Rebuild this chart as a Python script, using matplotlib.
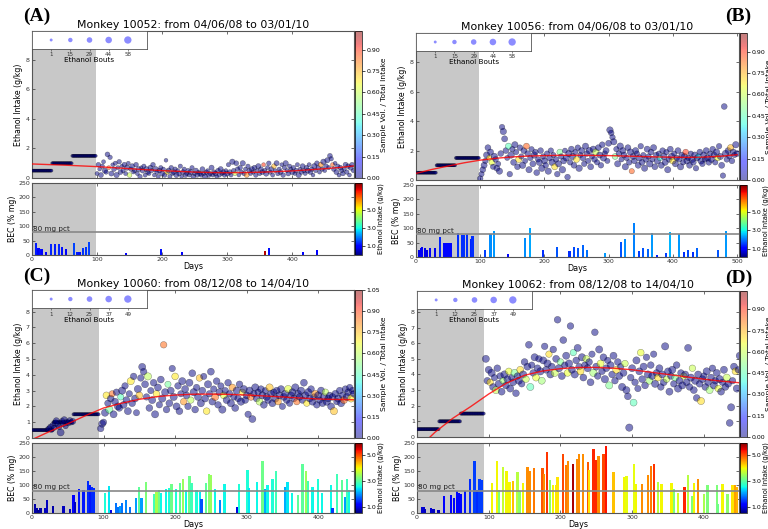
import numpy as np
import matplotlib
matplotlib.use("Agg")
import matplotlib.pyplot as plt
from matplotlib.colors import Normalize
from matplotlib.cm import ScalarMappable
from matplotlib.ticker import FormatStrFormatter

W, H = 768, 529
default_ratio = 0.0

# ---------------- Monkey 10052 (A) ----------------
title_A = "Monkey 10052: from 04/06/08 to 03/01/10"
xmax_A, induct_end_A, ymax_A = 495, 99, 9.95
induct_steps_A = [(1, 30, 0.5), (31, 61, 1.0), (62, 98, 1.5)]
post_start_A = 100
intake_A = [
    0.3, 0.9, 0.6, 0.2, 0.8, 1.1, 0.5, 0.4, 1.6, 0.7,
    1.4, 0.3, 0.9, 0.6, 1.0, 0.2, 0.7, 1.1, 0.4, 0.8,
    0.5, 0.9, 0.3, 0.7, 1.0, 0.2, 0.6, 0.8, 0.4, 0.5,
    0.9, 0.3, 0.6, 0.1, 0.7, 0.5, 0.8, 0.2, 0.6, 0.4,
    0.3, 0.7, 0.5, 0.9, 0.2, 0.6, 0.4, 0.1, 0.5, 0.7,
    0.3, 0.6, 0.2, 1.2, 0.4, 0.5, 0.1, 0.7, 0.3, 0.4,
    0.6, 0.2, 0.5, 0.3, 0.8, 0.1, 0.4, 0.6, 0.2, 0.3,
    0.5, 0.2, 0.4, 0.7, 0.1, 0.3, 0.5, 0.2, 0.4, 0.3,
    0.2, 0.6, 0.3, 0.1, 0.4, 0.5, 0.2, 0.3, 0.7, 0.2,
    0.4, 0.3, 0.1, 0.5, 0.2, 0.6, 0.3, 0.4, 0.2, 0.5,
    0.3, 0.9, 0.4, 0.2, 1.1, 0.5, 0.3, 1.0, 0.6, 0.2,
    0.7, 0.4, 1.0, 0.3, 0.6, 0.2, 0.8, 0.5, 0.3, 0.6,
    0.4, 0.7, 0.2, 0.5, 0.8, 0.3, 0.6, 0.4, 0.9, 0.5,
    0.3, 0.7, 1.0, 0.4, 0.6, 0.2, 0.8, 0.5, 1.0, 0.3,
    0.6, 0.4, 0.9, 0.2, 0.7, 1.0, 0.5, 0.3, 0.8, 0.6,
    0.4, 0.7, 0.3, 0.5, 0.9, 0.2, 0.6, 0.4, 0.8, 0.5,
    0.3, 0.7, 0.5, 0.9, 0.4, 0.6, 0.2, 0.8, 0.5, 1.0,
    0.7, 0.4, 0.9, 0.6, 1.1, 0.5, 0.8, 1.2, 0.7, 1.5,
    1.3, 0.9, 0.6, 1.0, 0.4, 0.8, 0.2, 0.7, 0.5, 0.3,
    0.6, 0.9, 0.4, 0.8, 0.2, 0.7, 0.9, 0.5]
bouts_A = [
    12, 18, 9, 22, 15, 11, 25, 14, 20, 10, 16, 23, 8, 19, 13, 27, 11, 17, 21, 9,
    14, 20, 12, 26, 10, 18, 15, 22, 9, 13, 19, 11, 24, 16, 8, 21, 14, 12, 25, 17,
    10, 22, 13, 18, 9, 27, 15, 11, 20, 14, 23, 12, 17, 9, 19, 26, 13, 16, 10, 21,
    15, 24, 11, 18, 14, 8, 22, 13, 20, 12, 17, 10, 25, 14, 19, 11, 23, 16, 9, 18,
    13, 21, 12, 27, 15, 10, 19, 14, 24, 11, 16, 22, 9, 18, 13, 25, 12, 20, 15, 10,
    24, 14, 19, 11, 28, 16, 12, 21, 17, 9, 18, 13, 26, 15, 10, 22, 14, 19, 11, 23,
    12, 20, 16, 9, 25, 13, 18, 21, 10, 15, 27, 11, 17, 14, 22, 12, 19, 9, 24, 16,
    13, 21, 10, 18, 15, 26, 12, 20, 14, 11, 23, 16, 9, 19, 13, 25, 11, 17, 22, 14,
    10, 18, 24, 12, 20, 15, 9, 27, 13, 19, 16, 11, 22, 14, 28, 10, 18, 25, 13, 21,
    15, 12, 19, 9, 23, 16, 11, 20, 14, 17, 12, 22, 15, 18, 10, 24, 19, 13]
hl_idx_A = [9, 25, 54, 106, 115, 128, 136, 172, 181]
hl_ratio_A = [0.85, 0.6, 0.7, 0.6, 0.8, 0.9, 0.75, 0.8, 0.85]
trend_days_A = [0, 25, 50, 75, 100, 125, 150, 175, 200, 225, 250, 275, 300,
                325, 350, 375, 400, 425, 450, 475, 495]
trend_A = [0.95, 0.91, 0.87, 0.82, 0.77, 0.70, 0.63, 0.56, 0.50, 0.45, 0.40,
           0.37, 0.36, 0.37, 0.39, 0.43, 0.48, 0.55, 0.63, 0.72, 0.82]
bar_days_A = [6, 10, 13, 16, 21, 29, 36, 42, 46, 52, 64, 70, 73, 79, 83, 87,
              144, 198, 231, 358, 364, 417, 438]
bar_bec_A = [40, 23, 21, 21, 12, 38, 38, 37, 28, 21, 43, 12, 9, 26, 29, 44,
             7, 21, 9, 15, 25, 9, 19]
bar_intake_A = [1.2, 1.0, 1.1, 1.0, 0.9, 1.3, 1.2, 1.3, 1.1, 1.0, 1.5, 1.2, 1.1, 1.4, 1.4, 1.5,
                0.9, 1.1, 0.9, 7.6, 1.1, 1.0, 1.0]
legend_bouts_A = [1, 15, 29, 44, 58]

# ---------------- Monkey 10056 (B) ----------------
title_B = "Monkey 10056: from 04/06/08 to 03/01/10"
xmax_B, induct_end_B, ymax_B = 503, 98, 10.0
induct_steps_B = [(2, 31, 0.5), (32, 61, 1.0), (62, 98, 1.5)]
post_start_B = 100
intake_B = [
    0.1, 0.4, 0.7, 1.0, 1.3, 1.7, 2.2, 1.5, 1.9, 1.2,
    0.9, 1.6, 1.4, 0.8, 1.1, 0.6, 1.8, 3.6, 3.3, 2.8,
    2.0, 1.5, 2.3, 0.4, 1.7, 2.1, 1.2, 2.4, 1.9, 0.9,
    1.4, 2.2, 1.6, 1.0, 2.0, 1.3, 2.3, 1.8, 0.7, 1.5,
    2.1, 1.1, 1.7, 1.9, 0.5, 1.4, 1.2, 2.0, 0.8, 1.6,
    1.3, 1.0, 1.8, 0.6, 1.5, 2.0, 1.2, 1.7, 0.9, 1.4,
    0.4, 1.1, 1.9, 1.6, 0.7, 1.3, 2.0, 1.5, 0.2, 1.8,
    1.2, 2.1, 1.6, 1.0, 1.9, 1.4, 2.2, 0.8, 1.7, 2.0,
    1.5, 1.1, 2.3, 1.8, 1.3, 2.0, 0.9, 1.6, 2.1, 1.4,
    1.9, 1.2, 2.2, 1.7, 1.0, 2.4, 1.5, 1.8, 2.0, 1.3,
    2.5, 3.4, 3.2, 2.9, 2.6, 1.6, 2.1, 1.1, 1.8, 2.3,
    1.4, 2.0, 1.7, 0.9, 1.5, 2.2, 1.2, 1.9, 0.6, 1.6,
    1.3, 2.0, 1.8, 1.0, 1.5, 2.3, 1.2, 1.7, 0.8, 1.4,
    2.1, 1.6, 1.1, 1.9, 1.4, 2.2, 0.9, 1.7, 1.3, 1.8,
    1.5, 1.0, 2.0, 1.6, 1.2, 1.9, 0.7, 1.4, 2.1, 1.6,
    1.3, 1.8, 1.1, 1.5, 2.0, 1.4, 0.9, 1.7, 1.2, 1.6,
    1.9, 1.3, 1.5, 1.0, 1.8, 1.4, 1.2, 1.7, 0.8, 1.5,
    1.6, 1.9, 1.3, 1.1, 1.7, 1.4, 2.0, 1.5, 1.2, 1.8,
    1.4, 2.1, 1.7, 1.2, 1.9, 1.5, 2.3, 1.6, 1.0, 0.3,
    5.0, 1.8, 1.4, 2.0, 1.6, 2.2, 1.3, 1.9, 1.7, 2.4,
    1.8]
bouts_B = [
    30, 26, 34, 38, 28, 41, 35, 24, 39, 32, 27, 44, 31, 36, 25, 40, 33, 29, 42, 37,
    34, 23, 38, 30, 45, 28, 36, 41, 26, 33, 39, 31, 27, 43, 35, 24, 37, 32, 40, 29,
    25, 36, 42, 30, 34, 27, 39, 33, 44, 28, 38, 31, 26, 41, 35, 29, 43, 24, 37, 32,
    30, 40, 34, 27, 45, 36, 23, 39, 31, 42, 28, 35, 41, 33, 26, 38, 30, 44, 25, 37,
    34, 29, 40, 32, 27, 43, 36, 24, 39, 31, 41, 26, 35, 38, 30, 33, 42, 28, 37, 25,
    36, 44, 31, 29, 40, 34, 27, 39, 32, 45, 24, 37, 33, 41, 28, 35, 30, 43, 26, 38,
    32, 39, 27, 36, 42, 29, 34, 25, 40, 31, 37, 28, 44, 33, 26, 39, 35, 30, 41, 24,
    29, 36, 31, 43, 38, 27, 40, 32, 34, 45, 41, 25, 37, 30, 35, 28, 42, 33, 26, 39,
    33, 40, 28, 35, 24, 44, 31, 38, 29, 36, 26, 34, 43, 30, 39, 27, 36, 41, 32, 25,
    38, 31, 35, 27, 42, 33, 29, 40, 37, 28, 34, 45, 30, 36, 25, 41, 32, 39, 27, 43,
    35]
hl_idx_B = [7, 9, 22, 30, 36, 58, 62, 75, 90, 105, 118, 140, 150, 160, 170, 185, 195]
hl_ratio_B = [0.7, 0.65, 0.45, 0.7, 0.85, 0.7, 0.5, 0.7, 0.6, 0.5, 0.85, 0.4,
              0.7, 0.9, 0.35, 0.65, 0.75]
trend_days_B = [0, 25, 50, 75, 100, 125, 150, 175, 200, 225, 250, 275, 300,
                325, 350, 375, 400, 425, 450, 475, 500]
trend_B = [0.45, 0.72, 0.95, 1.17, 1.35, 1.48, 1.57, 1.63, 1.66, 1.68, 1.68,
           1.67, 1.66, 1.63, 1.60, 1.57, 1.55, 1.54, 1.56, 1.62, 1.72]
bar_days_B = [5, 8, 10, 14, 17, 22, 30, 38, 43, 46, 49, 52, 55, 65, 72, 74, 79, 86, 88,
              108, 116, 122, 143, 170, 177, 198, 219, 239, 246, 253, 260, 267, 294,
              319, 326, 340, 347, 354, 361, 368, 375, 390, 396, 410, 417, 424, 431,
              437, 470, 483]
bar_bec_B = [25, 30, 33, 30, 25, 30, 30, 70, 50, 50, 48, 47, 50, 84, 75, 78, 79, 64, 74,
             25, 79, 90, 9, 66, 100, 23, 35, 21, 33, 31, 42, 25, 14,
             52, 64, 118, 21, 31, 29, 84, 7, 14, 88, 81, 17, 25, 17,
             31, 23, 90]
bar_intake_B = [0.9, 1.0, 1.0, 0.9, 0.9, 1.0, 1.0, 1.4, 1.2, 1.2, 1.2, 1.2, 1.2, 1.5, 1.5,
                1.5, 1.5, 1.4, 1.5,
                1.6, 2.2, 2.3, 1.2, 2.2, 2.4, 1.5, 1.8, 1.5, 1.7, 1.8, 1.9, 2.0, 2.3,
                1.8, 2.2, 2.1, 1.6, 1.8, 1.9, 2.3, 1.4, 1.6, 2.5, 2.3, 1.5, 1.7, 1.5,
                1.9, 1.8, 2.3]
legend_bouts_B = [1, 15, 29, 44, 58]

# ---------------- Monkey 10060 (C) ----------------
title_C = "Monkey 10060: from 08/12/08 to 14/04/10"
xmax_C, induct_end_C, ymax_C = 450, 94, 9.37
induct_steps_C = [(1, 29, 0.5), (30, 56, 1.0), (58, 93, 1.5)]
extra_days_C = [22, 24, 26, 27, 29, 31, 33, 34, 36, 38, 40, 42, 44, 45, 47, 49, 51, 53, 55, 57]
extra_vals_C = [0.55, 0.6, 0.7, 0.5, 0.8, 0.65, 0.95, 1.1, 0.85, 0.7, 0.35, 1.05,
                0.9, 1.15, 0.75, 1.0, 0.95, 1.1, 1.0, 1.05]
extra_bouts_C = [20, 25, 30, 18, 28, 22, 35, 30, 26, 24, 45, 32, 27, 36, 22, 30,
                 28, 33, 25, 30]
post_start_C = 96
intake_C = [
    0.6, 0.9, 1.0, 1.6, 2.7, 2.2, 1.8, 2.5, 2.8, 1.5,
    2.3, 2.9, 2.0, 1.9, 2.6, 3.0, 2.1, 3.3, 2.4, 1.7,
    2.8, 3.6, 2.2, 3.9, 2.5, 1.6, 3.1, 2.7, 3.8, 4.5,
    4.2, 3.4, 2.6, 3.9, 1.9, 3.0, 2.4, 3.5, 1.5, 2.8,
    3.2, 2.1, 3.7, 2.5, 5.9, 2.9, 1.8, 3.4, 2.2, 3.0,
    4.4, 2.6, 3.9, 2.0, 3.3, 1.7, 2.8, 3.6, 2.3, 3.1,
    2.7, 2.0, 3.5, 2.4, 4.1, 2.9, 1.8, 3.2, 2.6, 3.8,
    2.2, 3.0, 3.9, 2.5, 1.7, 3.4, 2.8, 4.2, 2.3, 3.1,
    2.6, 3.6, 2.1, 2.9, 3.3, 1.8, 2.7, 3.0, 2.4, 3.5,
    2.8, 2.2, 3.2, 2.6, 1.9, 3.0, 2.5, 3.4, 2.3, 2.9,
    3.1, 2.4, 2.7, 1.5, 3.0, 2.6, 1.2, 2.8, 3.2, 2.5,
    2.9, 2.3, 3.1, 2.7, 2.1, 3.0, 2.6, 2.4, 3.2, 2.8,
    2.2, 2.9, 2.5, 3.0, 2.3, 2.7, 3.1, 2.0, 2.6, 2.8,
    2.4, 3.1, 2.2, 2.7, 2.9, 2.5, 3.2, 2.3, 2.8, 2.6,
    3.0, 2.4, 3.5, 2.7, 2.2, 2.9, 2.5, 3.1, 2.3, 2.6,
    2.8, 2.1, 2.7, 2.4, 3.0, 2.2, 2.6, 2.9, 2.3, 2.5,
    2.7, 2.0, 2.6, 1.7, 2.8, 2.3, 2.5, 3.0, 2.2, 2.7,
    2.4, 3.1, 2.6, 2.9, 3.2, 2.5, 3.0, 2.8]
bouts_C = [
    38, 44, 35, 47, 41, 36, 49, 40, 33, 45, 42, 37, 46, 39, 34, 48, 43, 36, 41, 45,
    35, 47, 40, 38, 44, 33, 49, 42, 37, 46, 39, 43, 36, 48, 41, 34, 45, 40, 47, 38,
    44, 35, 42, 49, 37, 46, 39, 33, 43, 41, 36, 48, 40, 45, 38, 42, 34, 47, 39, 44,
    41, 37, 46, 35, 43, 49, 40, 36, 45, 38, 47, 42, 34, 44, 39, 48, 37, 43, 41, 35,
    46, 40, 38, 45, 33, 49, 42, 36, 44, 39, 37, 47, 41, 35, 43, 46, 38, 40, 48, 34,
    45, 39, 42, 36, 47, 41, 44, 37, 49, 40, 35, 43, 38, 46, 42, 33, 45, 39, 47, 41,
    44, 36, 48, 40, 37, 45, 42, 34, 43, 46, 39, 47, 35, 41, 44, 38, 49, 36, 42, 40,
    46, 37, 43, 45, 34, 48, 41, 39, 44, 36, 42, 38, 47, 35, 45, 40, 43, 37, 49, 41,
    36, 44, 39, 46, 42, 34, 48, 40, 45, 38, 43, 37, 47, 41, 35, 46, 39, 44]
hl_idx_C = [4, 6, 8, 14, 21, 27, 33, 39, 44, 47, 52, 58, 63, 69, 74, 80, 86, 92, 99,
            105, 111, 118, 124, 131, 137, 144, 150, 157, 163, 170, 175]
hl_ratio_C = [0.7, 0.5, 0.85, 0.45, 0.7, 0.75, 0.6, 0.7, 0.85, 0.5, 0.7, 0.8, 0.6, 0.75,
              0.7, 0.85, 0.65, 0.8, 0.7, 0.85, 0.6, 0.75, 0.8, 0.65, 0.85, 0.7, 0.8,
              0.6, 0.75, 0.85, 0.7]
trend_days_C = [0, 25, 50, 75, 100, 125, 150, 175, 200, 225, 250, 275, 300, 325,
                350, 375, 400, 425, 450]
trend_C = [-0.1, 0.42, 0.9, 1.42, 1.9, 2.2, 2.45, 2.62, 2.72, 2.77, 2.78, 2.76,
           2.72, 2.66, 2.6, 2.53, 2.47, 2.44, 2.42]
bar_days_C = [4, 7, 9, 12, 19, 21, 29, 44, 53, 58, 60, 66, 72, 78, 81, 84, 87,
              102, 108, 110, 117, 121, 123, 126, 131, 137, 145, 150, 153, 159, 171,
              174, 177, 180, 187, 192, 195, 201, 207, 211, 215, 220, 223, 230, 235,
              237, 243, 247, 250, 256, 263, 269, 286, 289, 301, 303, 314, 322, 326,
              329, 336, 341, 354, 357, 363, 372, 378, 383, 386, 392, 400, 405, 418,
              420, 426, 433, 437, 440, 443]
bar_bec_C = [32, 18, 12, 18, 18, 47, 26, 26, 15, 65, 41, 85, 82, 115, 100, 94, 88,
             73, 97, 9, 35, 21, 26, 35, 47, 23, 53, 92, 52, 112, 68,
             76, 82, 73, 86, 88, 102, 85, 106, 121, 82, 133, 106, 82, 76,
             49, 108, 141, 135, 85, 45, 102, 21, 102, 153, 88, 112, 185, 85,
             100, 123, 150, 94, 112, 70, 65, 176, 150, 115, 94, 123, 70, 100,
             18, 139, 117, 56, 123, 82]
bar_intake_C = [0.7, 0.7, 0.6, 0.7, 0.8, 0.8, 0.7, 0.8, 0.8, 1.1, 0.8, 1.3, 1.3, 1.4,
                1.3, 1.4, 1.4,
                2.6, 2.4, 1.0, 1.8, 1.8, 2.0, 1.8, 1.9, 1.8, 2.0, 3.0, 2.0, 3.2, 2.8,
                3.5, 3.1, 2.5, 2.5, 2.6, 3.1, 2.6, 3.0, 3.4, 2.5, 3.1, 2.8, 2.6, 2.4,
                1.6, 3.0, 3.3, 3.4, 2.5, 1.9, 2.5, 1.0, 2.6, 2.6, 2.4, 2.5, 3.1, 2.1,
                2.5, 2.6, 2.8, 2.1, 2.4, 2.5, 3.0, 3.0, 3.4, 2.8, 2.5, 2.6, 2.5, 2.5,
                1.5, 2.8, 3.0, 2.0, 2.8, 2.5]
legend_bouts_C = [1, 12, 25, 37, 49]

# ---------------- Monkey 10062 (D) ----------------
title_D = "Monkey 10062: from 08/12/08 to 14/04/10"
xmax_D, induct_end_D, ymax_D = 449, 94, 9.34
induct_steps_D = [(1, 30, 0.5), (31, 60, 1.0), (61, 93, 1.5)]
post_start_D = 96
intake_D = [
    5.0, 3.6, 4.3, 3.5, 4.1, 3.2, 3.8, 3.0, 4.4, 3.4,
    3.9, 2.9, 3.6, 4.0, 3.3, 3.7, 4.2, 3.1, 3.8, 3.5,
    4.1, 2.8, 3.9, 3.6, 4.3, 3.4, 4.0, 4.8, 3.7, 4.5,
    5.9, 3.2, 4.6, 4.1, 5.1, 3.8, 4.4, 5.0, 4.2, 3.6,
    4.9, 5.8, 4.3, 4.7, 5.3, 4.0, 4.5, 5.6, 4.1, 5.0,
    7.5, 4.4, 4.8, 3.9, 6.2, 4.6, 5.2, 4.1, 4.7, 7.1,
    4.3, 5.4, 4.0, 4.9, 5.7, 4.5, 4.2, 5.1, 3.8, 4.6,
    5.0, 4.4, 4.8, 3.5, 5.3, 4.1, 6.7, 4.5, 3.9, 5.6,
    4.7, 4.2, 5.1, 3.7, 4.4, 4.9, 3.3, 4.6, 4.0, 5.2,
    3.6, 4.3, 4.8, 3.9, 4.5, 3.2, 4.1, 4.7, 3.0, 2.6,
    0.6, 3.8, 4.4, 2.2, 3.5, 4.9, 3.1, 4.2, 5.4, 3.7,
    4.5, 3.3, 5.1, 4.0, 3.6, 4.6, 3.9, 5.3, 3.4, 4.1,
    3.8, 4.4, 3.2, 4.0, 3.5, 5.8, 3.7, 4.2, 2.9, 3.9,
    4.3, 3.4, 3.8, 4.6, 3.1, 3.6, 4.1, 3.3, 3.9, 4.0,
    3.5, 5.7, 3.2, 3.8, 4.4, 3.0, 3.6, 2.5, 4.0, 3.4,
    2.3, 3.7, 3.9, 3.2, 4.2, 3.5, 3.0, 3.8, 4.4, 3.3,
    3.6, 4.1, 3.1, 3.7, 2.9, 3.5, 4.3, 3.2, 3.8, 3.4,
    0.9, 1.9, 3.6, 4.5, 4.2, 3.1, 4.3, 5.2]
bouts_D = [
    46, 39, 44, 37, 48, 42, 35, 45, 40, 47, 38, 43, 36, 49, 41, 44, 39, 46, 34, 42,
    47, 40, 37, 45, 43, 36, 48, 41, 38, 44, 42, 46, 35, 39, 47, 43, 40, 37, 49, 44,
    45, 38, 42, 48, 36, 46, 41, 39, 47, 43, 40, 49, 37, 44, 42, 35, 46, 41, 48, 39,
    43, 36, 47, 40, 45, 38, 44, 49, 42, 37, 41, 46, 39, 43, 35, 48, 40, 45, 38, 47,
    44, 37, 42, 49, 41, 36, 46, 43, 39, 45, 38, 47, 40, 44, 36, 48, 42, 37, 46, 41,
    49, 39, 45, 43, 38, 47, 35, 44, 40, 42, 46, 41, 37, 48, 43, 39, 45, 36, 47, 40,
    42, 44, 38, 46, 41, 49, 37, 43, 45, 39, 47, 36, 42, 40, 48, 44, 38, 46, 35, 43,
    41, 45, 39, 47, 37, 42, 49, 40, 44, 38, 46, 43, 36, 41, 48, 39, 45, 42, 37, 47,
    40, 44, 38, 49, 43, 35, 46, 41, 45, 39, 42, 47, 37, 44, 40, 48, 36, 45]
hl_idx_D = [3, 7, 12, 16, 20, 24, 28, 31, 35, 39, 44, 48, 52, 57, 61, 66, 70, 75, 80,
            86, 91, 97, 103, 108, 114, 120, 126, 132, 138, 144, 150, 156, 162, 168, 174]
hl_ratio_D = [0.7, 0.6, 0.55, 0.65, 0.5, 0.7, 0.6, 0.45, 0.65, 0.55, 0.7, 0.6, 0.5,
              0.65, 0.45, 0.7, 0.6, 0.55, 0.65, 0.5, 0.7, 0.6, 0.45, 0.65, 0.55, 0.7,
              0.6, 0.5, 0.65, 0.6, 0.7, 0.55, 0.65, 0.6, 0.7]
trend_days_D = [0, 25, 50, 75, 100, 125, 150, 175, 200, 225, 250, 275, 300, 325,
                350, 375, 400, 425, 450]
trend_D = [-0.8, 0.3, 1.2, 1.95, 2.75, 3.45, 3.95, 4.22, 4.37, 4.45, 4.45, 4.4,
           4.3, 4.15, 4.0, 3.85, 3.7, 3.57, 3.47]
bar_days_D = [7, 9, 11, 20, 23, 30, 38, 47, 52, 56, 59, 61, 67, 74, 80, 84, 87, 90,
              105, 112, 114, 120, 125, 129, 134, 140, 143, 148, 154, 157, 163, 175,
              177, 181, 185, 190, 194, 196, 204, 208, 211, 218, 224, 226, 231, 238,
              240, 246, 250, 253, 260, 264, 274, 289, 292, 303, 305, 314, 322, 326,
              330, 336, 341, 355, 358, 364, 373, 378, 383, 386, 392, 400, 405, 418,
              420, 426, 433, 440, 443, 446]
bar_bec_D = [23, 21, 14, 18, 14, 9, 61, 65, 53, 80, 73, 68, 80, 123, 184, 82, 121, 117,
             108, 184, 82, 164, 149, 112, 114, 147, 80, 106, 164, 150, 162, 162,
             138, 217, 117, 100, 100, 129, 209, 170, 185, 174, 194, 209, 209, 182,
             153, 229, 190, 202, 209, 241, 147, 127, 131, 176, 103, 103, 137, 167,
             174, 112, 103, 108, 85, 73, 92, 137, 59, 106, 123, 67, 100, 100,
             33, 103, 68, 100, 100, 94]
bar_intake_D = [0.9, 0.9, 0.8, 0.9, 0.8, 0.8, 1.1, 1.1, 1.1, 1.2, 1.2, 1.2, 1.3, 1.4,
                1.5, 1.4, 1.5, 1.5,
                4.0, 4.0, 3.2, 3.7, 4.0, 4.0, 4.3, 3.6, 3.3, 4.0, 4.6, 4.6, 4.7, 4.9,
                4.6, 5.1, 3.3, 4.0, 4.1, 4.1, 5.0, 4.7, 4.6, 5.7, 4.6, 4.6, 4.6, 4.9,
                4.1, 5.2, 5.2, 4.6, 5.0, 5.3, 4.3, 4.0, 3.9, 3.9, 4.0, 4.6, 4.6, 4.7,
                5.1, 3.6, 4.0, 4.0, 3.2, 3.8, 5.2, 3.6, 3.2, 4.0, 4.6, 3.5, 3.2, 3.2,
                3.1, 4.0, 3.3, 4.1, 4.5, 4.4]
legend_bouts_D = [1, 12, 25, 37, 49]


def box(x0, y0, x1, y1):
    return [x0 / W, 1 - y1 / H, (x1 - x0) / W, (y1 - y0) / H]


def style_axis(ax):
    ax.tick_params(direction='in', length=2, width=0.5, labelsize=4.5, pad=1.5,
                   top=True, right=True, colors='#333333')
    for sp in ax.spines.values():
        sp.set_color('#555555')
        sp.set_linewidth(0.8)


def draw_panel(fig, p):
    x0, x1 = p['xpix']
    t0, t1, b0, b1 = p['ypix']
    ax = fig.add_axes(box(x0, t0, x1, t1))
    axb = fig.add_axes(box(x0, b0, x1, b1))
    cax = fig.add_axes(box(x1 + 1, t0, x1 + 8, t1))
    cbx = fig.add_axes(box(x1 + 1, b0, x1 + 8, b1))

    bmax = p['legend'][-1]

    def size(b):
        return 4 + 24 * np.asarray(b, dtype=float) / bmax

    sc_kw = dict(cmap='jet', vmin=0, vmax=p['rmax'], alpha=0.5,
                 edgecolors='k', linewidths=0.3)

    # induction phase
    for a, b, level in p['steps']:
        d = np.arange(a, b + 1)
        ax.scatter(d, np.full(len(d), level), s=size(p['ind_bouts']),
                   c=np.full(len(d), default_ratio), zorder=3, **sc_kw)
    if p.get('extra_days') is not None:
        ax.scatter(p['extra_days'], p['extra_vals'], s=size(p['extra_bouts']),
                   c=np.full(len(p['extra_days']), default_ratio), zorder=3, **sc_kw)

    vals = np.asarray(p['intake'])
    days = np.arange(p['post_start'], p['post_start'] + 2 * len(vals), 2)
    ratio = np.full(len(vals), default_ratio)
    ratio[p['hl_idx']] = p['hl_ratio']
    sc = ax.scatter(days, vals, s=size(p['bouts']), c=ratio, zorder=3, **sc_kw)
    ax.plot(p['trend_days'], p['trend'], color='red', lw=1.0, alpha=0.8, zorder=4)

    ax.axvspan(0, p['induct_end'], color='#c8c8c8', lw=0, zorder=0)
    ax.set_xlim(0, p['xmax'])
    ax.set_ylim(0, p['ymax'])
    ax.set_yticks(p['yticks'])
    ax.set_xticks(p['xticks'])
    ax.set_xticklabels([])
    ax.set_ylabel('Ethanol Intake (g/kg)', fontsize=5.6, labelpad=2)
    ax.set_title(p['title'], fontsize=7.8, pad=2.5)
    style_axis(ax)

    cb = fig.colorbar(sc, cax=cax)
    cb.set_ticks(np.arange(0, p['rmax'] + 1e-6, 0.15))
    cb.ax.yaxis.set_major_formatter(FormatStrFormatter('%.2f'))
    cb.ax.tick_params(labelsize=4.5, length=2, width=0.5, pad=1)
    cb.set_label('Sample Vol. / Total Intake', fontsize=5.4, labelpad=1)
    cb.outline.set_linewidth(0.5)

    # legend of bout sizes
    lax = ax.inset_axes([0, 1 - 18 / 147, 115 / 322, 18 / 147])
    lax.set_facecolor('white')
    pos = np.arange(1, len(p['legend']) + 1)
    lax.scatter(pos, np.zeros(len(pos)), s=size(p['legend']), color='blue',
                alpha=0.45, edgecolors='none')
    lax.set_xlim(0, len(pos) + 1)
    lax.set_ylim(-1, 1)
    lax.set_xticks(pos)
    lax.set_xticklabels([str(v) for v in p['legend']])
    lax.set_yticks([])
    lax.tick_params(labelsize=4, length=1.5, width=0.4, pad=1, colors='#333333')
    lax.set_xlabel('Ethanol Bouts', fontsize=5.2, labelpad=0)
    for sp in lax.spines.values():
        sp.set_color('#555555')
        sp.set_linewidth(0.6)

    # BEC bars
    norm = Normalize(*p['irange'])
    cmap = plt.get_cmap('jet')
    axb.axvspan(0, p['induct_end'], color='#c8c8c8', lw=0, zorder=0)
    axb.bar(p['bar_days'], p['bar_bec'], width=3.2, color=cmap(norm(p['bar_intake'])),
            lw=0, zorder=2)
    axb.axhline(80, color='#888888', lw=1.2, zorder=3)
    axb.text(1, 81, '80 mg pct', fontsize=5.2, ha='left', va='bottom', color='#222222')
    axb.set_xlim(0, p['xmax'])
    axb.set_ylim(0, 250)
    axb.set_yticks([0, 50, 100, 150, 200, 250])
    axb.set_xticks(p['xticks'])
    axb.set_ylabel('BEC (% mg)', fontsize=5.6, labelpad=1)
    axb.set_xlabel('Days', fontsize=5.8, labelpad=0)
    style_axis(axb)

    cb2 = fig.colorbar(ScalarMappable(norm=norm, cmap=cmap), cax=cbx)
    cb2.set_ticks([1.0, 3.0, 5.0])
    cb2.ax.yaxis.set_major_formatter(FormatStrFormatter('%.1f'))
    cb2.ax.tick_params(labelsize=4.5, length=2, width=0.5, pad=1)
    cb2.set_label('Ethanol Intake (g/kg)', fontsize=4.9, labelpad=1)
    cb2.outline.set_linewidth(0.5)

    lx, ly = p['label_xy']
    fig.text(lx / W, 1 - ly / H, p['label'], fontfamily='Liberation Serif',
             fontweight='bold', fontsize=14, ha='left', va='top')


fig = plt.figure(figsize=(W / 100, H / 100), dpi=100)

panels = [
    dict(label='(A)', label_xy=(23, 8), title=title_A, xpix=(32, 354),
         ypix=(31, 178, 183, 255), xmax=xmax_A, ymax=ymax_A, induct_end=induct_end_A,
         yticks=[0, 2, 4, 6, 8], xticks=[0, 100, 200, 300, 400], steps=induct_steps_A,
         ind_bouts=2, post_start=post_start_A, intake=intake_A, bouts=bouts_A,
         hl_idx=hl_idx_A, hl_ratio=hl_ratio_A, trend_days=trend_days_A, trend=trend_A,
         bar_days=bar_days_A, bar_bec=bar_bec_A, bar_intake=bar_intake_A,
         legend=legend_bouts_A, irange=(0.0, 8.0), rmax=1.03),
    dict(label='(B)', label_xy=(725, 8), title=title_B, xpix=(416, 739),
         ypix=(33, 180, 185, 257), xmax=xmax_B, ymax=ymax_B, induct_end=induct_end_B,
         yticks=[0, 2, 4, 6, 8], xticks=[0, 100, 200, 300, 400, 500], steps=induct_steps_B,
         ind_bouts=2, post_start=post_start_B, intake=intake_B, bouts=bouts_B,
         hl_idx=hl_idx_B, hl_ratio=hl_ratio_B, trend_days=trend_days_B, trend=trend_B,
         bar_days=bar_days_B, bar_bec=bar_bec_B, bar_intake=bar_intake_B,
         legend=legend_bouts_B, irange=(0.2, 7.8), rmax=1.03),
    dict(label='(C)', label_xy=(23, 268), title=title_C, xpix=(32, 354),
         ypix=(290, 438, 443, 513), xmax=xmax_C, ymax=ymax_C, induct_end=induct_end_C,
         yticks=list(range(9)), xticks=[0, 100, 200, 300, 400], steps=induct_steps_C,
         extra_days=extra_days_C, extra_vals=extra_vals_C, extra_bouts=extra_bouts_C,
         ind_bouts=3, post_start=post_start_C, intake=intake_C, bouts=bouts_C,
         hl_idx=hl_idx_C, hl_ratio=hl_ratio_C, trend_days=trend_days_C, trend=trend_C,
         bar_days=bar_days_C, bar_bec=bar_bec_C, bar_intake=bar_intake_C,
         legend=legend_bouts_C, irange=(0.5, 5.9), rmax=1.05),
    dict(label='(D)', label_xy=(725, 270), title=title_D, xpix=(417, 739),
         ypix=(291, 437, 443, 513), xmax=xmax_D, ymax=ymax_D, induct_end=induct_end_D,
         yticks=list(range(9)), xticks=[0, 100, 200, 300, 400], steps=induct_steps_D,
         ind_bouts=3, post_start=post_start_D, intake=intake_D, bouts=bouts_D,
         hl_idx=hl_idx_D, hl_ratio=hl_ratio_D, trend_days=trend_days_D, trend=trend_D,
         bar_days=bar_days_D, bar_bec=bar_bec_D, bar_intake=bar_intake_D,
         legend=legend_bouts_D, irange=(0.5, 5.9), rmax=1.03),
]

for p in panels:
    draw_panel(fig, p)

fig.savefig('out.png', dpi=100)
